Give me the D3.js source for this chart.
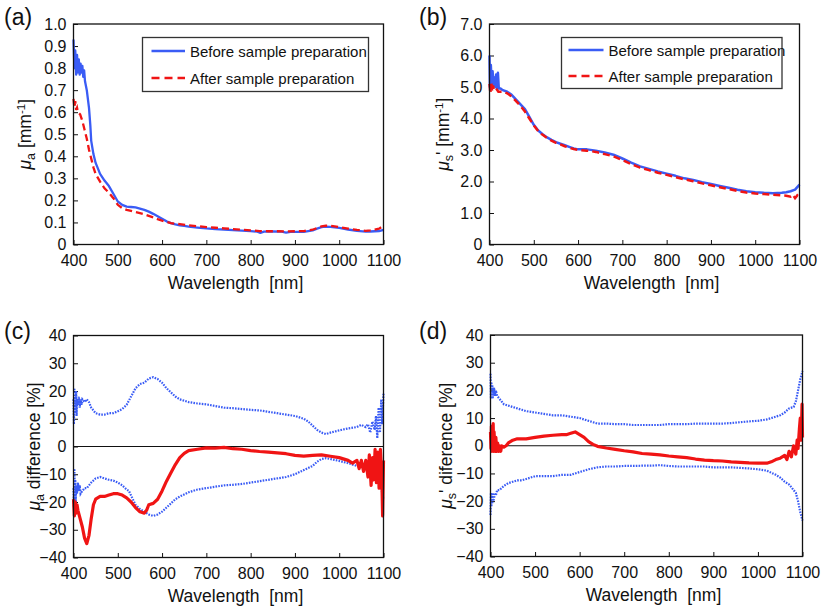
<!DOCTYPE html>
<html>
<head>
<meta charset="utf-8">
<script src="https://cdn.jsdelivr.net/npm/d3@7"></script>
<style>
  html, body { margin: 0; padding: 0; background: #fff; }
  svg text { font-family: "Liberation Sans", Arial, Helvetica, sans-serif; fill: #111; }
</style>
</head>
<body>
<svg id="chart" width="825" height="609"></svg>
<script>
// ---------------- DATA ----------------
const xTicks = [400, 500, 600, 700, 800, 900, 1000, 1100];
const yTicksA = [0, 0.1, 0.2, 0.3, 0.4, 0.5, 0.6, 0.7, 0.8, 0.9, 1.0];
const yTicksB = [0, 1, 2, 3, 4, 5, 6, 7];
const yTicksDiff = [-40, -30, -20, -10, 0, 10, 20, 30, 40];
const legendLabels = ["Before sample preparation", "After sample preparation"];

// (a) absorption coefficient [mm^-1]
const muaBefore = [[400,0.93],[402,0.80],[404,0.88],[406,0.77],[408,0.86],[410,0.78],[412,0.84],[414,0.77],[416,0.82],[418,0.78],[420,0.81],[422,0.76],[424,0.79],[426,0.74],[430,0.70],[435,0.62],[438,0.54],[440,0.47],[445,0.41],[450,0.37],[460,0.32],[470,0.29],[480,0.265],[490,0.23],[500,0.195],[510,0.18],[520,0.172],[530,0.17],[540,0.168],[550,0.163],[560,0.157],[570,0.149],[580,0.139],[590,0.128],[600,0.117],[610,0.105],[620,0.097],[630,0.091],[640,0.087],[650,0.084],[660,0.081],[680,0.077],[700,0.073],[720,0.070],[740,0.068],[760,0.065],[780,0.063],[800,0.061],[815,0.058],[822,0.053],[830,0.058],[850,0.059],[870,0.058],[880,0.054],[890,0.057],[900,0.057],[920,0.057],[940,0.064],[950,0.072],[960,0.079],[970,0.081],[980,0.080],[990,0.078],[1000,0.075],[1020,0.068],[1040,0.062],[1060,0.058],[1070,0.059],[1080,0.060],[1090,0.061],[1100,0.066]];
const muaAfter = [[400,0.66],[402,0.62],[404,0.65],[406,0.61],[408,0.62],[410,0.60],[415,0.59],[420,0.56],[425,0.52],[430,0.48],[435,0.43],[440,0.39],[445,0.35],[450,0.32],[460,0.285],[470,0.255],[480,0.235],[490,0.21],[500,0.18],[510,0.165],[520,0.157],[530,0.152],[540,0.147],[550,0.142],[560,0.137],[570,0.130],[580,0.123],[590,0.115],[600,0.108],[620,0.097],[640,0.092],[660,0.087],[680,0.083],[700,0.079],[720,0.076],[740,0.073],[760,0.070],[780,0.067],[800,0.064],[820,0.061],[840,0.060],[860,0.060],[880,0.059],[900,0.060],[920,0.061],[940,0.067],[950,0.075],[960,0.082],[970,0.085],[980,0.085],[1000,0.079],[1020,0.072],[1040,0.066],[1060,0.062],[1070,0.064],[1080,0.068],[1090,0.072],[1100,0.085]];

// (b) reduced scattering coefficient [mm^-1]
const musBefore = [[400,6.0],[401,5.0],[403,5.7],[405,5.1],[407,5.5],[409,5.05],[411,5.3],[413,5.0],[415,5.4],[417,4.95],[419,5.45],[421,4.95],[425,4.95],[430,4.9],[440,4.85],[450,4.75],[460,4.6],[470,4.45],[480,4.3],[490,4.05],[500,3.8],[510,3.62],[520,3.5],[530,3.4],[540,3.32],[550,3.25],[560,3.2],[570,3.15],[580,3.1],[590,3.05],[600,3.02],[620,3.02],[640,2.98],[660,2.92],[680,2.85],[700,2.73],[720,2.6],[740,2.48],[760,2.4],[780,2.32],[800,2.25],[820,2.18],[840,2.1],[860,2.05],[880,1.98],[900,1.92],[920,1.86],[940,1.8],[960,1.74],[980,1.69],[1000,1.66],[1020,1.64],[1040,1.63],[1060,1.64],[1070,1.66],[1080,1.69],[1090,1.74],[1095,1.82],[1100,1.9]];
const musAfter = [[400,5.1],[402,4.8],[404,5.15],[406,4.85],[408,5.05],[410,4.9],[415,4.95],[420,4.85],[430,4.85],[440,4.8],[450,4.7],[460,4.55],[470,4.4],[480,4.22],[490,4.0],[500,3.78],[510,3.6],[520,3.48],[530,3.38],[540,3.3],[550,3.23],[560,3.18],[570,3.12],[580,3.07],[590,3.03],[600,3.0],[620,2.98],[640,2.94],[660,2.87],[680,2.8],[700,2.68],[720,2.55],[740,2.44],[760,2.36],[780,2.28],[800,2.21],[820,2.14],[840,2.07],[860,2.01],[880,1.94],[900,1.88],[920,1.82],[940,1.76],[960,1.7],[980,1.65],[1000,1.62],[1020,1.6],[1040,1.58],[1060,1.56],[1070,1.55],[1080,1.52],[1085,1.58],[1090,1.47],[1095,1.56],[1100,1.5]];

// (c) mua difference [%]
const muaDiffUpper = [[400,17],[401,8],[402,21],[403,12],[404,18],[405,14],[406,20],[407,11],[408,17],[410,15],[412,18],[414,14],[416,17],[418,15],[420,17],[425,16],[430,17],[435,16],[440,14],[450,12],[460,11.5],[470,11.5],[480,12],[490,12],[500,12.7],[510,13.5],[520,15],[530,18],[540,21],[550,22.5],[560,23],[570,24.5],[580,25],[590,24.3],[600,23],[610,21],[620,19.5],[630,18],[640,17],[650,16.5],[660,16],[680,15.5],[700,15.2],[720,14.6],[740,14],[760,13.8],[780,13.5],[800,13.2],[820,13],[840,12.5],[860,12],[880,11.5],[900,11],[920,10],[930,9],[940,7.5],[950,6],[960,5],[970,4.5],[980,5],[1000,5.8],[1020,6.5],[1040,7],[1050,7.8],[1060,7],[1065,8],[1070,5],[1075,9],[1080,6],[1083,11],[1086,3],[1089,14],[1092,5],[1095,17],[1097,8],[1100,19]];
const muaDiffLower = [[400,-15],[401,-22],[402,-8],[403,-18],[404,-12],[405,-20],[406,-14],[408,-17],[410,-13],[412,-16],[414,-14],[416,-17],[420,-16],[425,-15],[430,-15],[435,-14],[440,-13],[450,-11.5],[460,-11],[470,-11.5],[480,-12],[490,-12.3],[500,-13],[510,-14],[520,-15.5],[525,-16],[540,-21],[550,-22.5],[560,-23.5],[570,-24.5],[580,-25],[590,-24.5],[600,-23.5],[610,-22],[620,-20.5],[630,-19],[640,-18],[660,-16.5],[680,-15.5],[700,-15],[720,-14.5],[740,-14],[760,-13.8],[780,-13.5],[800,-13],[820,-12.5],[840,-12],[860,-11.5],[880,-11],[900,-10],[920,-8.5],[940,-7],[950,-5.5],[960,-4.5],[970,-4.2],[980,-4.5],[1000,-5.2],[1020,-6],[1040,-7],[1050,-7.5],[1060,-8],[1070,-7],[1075,-10],[1080,-6],[1085,-12],[1090,-4],[1095,-15],[1100,-19]];
const muaDiffMean = [[400,-19],[402,-25],[404,-20],[406,-24],[408,-21],[410,-23],[415,-26],[420,-29],[425,-33],[430,-35],[435,-32],[440,-26],[445,-21],[450,-19],[460,-18],[470,-18],[480,-17.5],[490,-17],[500,-17],[510,-17.5],[520,-18.5],[530,-20],[540,-22],[550,-23.5],[560,-24],[565,-23],[570,-21],[580,-20.5],[590,-19],[600,-16],[610,-12.5],[620,-9.5],[630,-6.5],[640,-4],[650,-2.5],[660,-1.5],[680,-1],[700,-0.5],[720,-0.6],[740,-0.3],[760,-0.8],[780,-1],[800,-1.5],[820,-1.8],[840,-2],[860,-2.3],[880,-2.6],[900,-3.2],[920,-3.5],[940,-3.2],[960,-3],[980,-3.5],[1000,-4],[1020,-5],[1030,-6],[1040,-5],[1045,-8],[1050,-5],[1055,-9],[1060,-5],[1065,-11],[1068,-3],[1072,-14],[1075,-4],[1078,-12],[1081,-1],[1084,-13],[1087,-2],[1090,-15],[1093,-1],[1096,-10],[1098,-25],[1100,-5]];

// (d) mus' difference [%]
const musDiffUpper = [[400,26],[401,17],[402,23],[403,18],[404,22],[405,17],[406,21],[407,18],[408,21],[410,18],[412,20],[415,18],[420,17],[425,16],[430,15],[440,14.5],[450,14],[460,13.5],[470,13],[480,12.5],[500,12],[520,11.5],[540,11],[560,11],[580,10.5],[600,10],[620,9],[630,8.5],[640,8],[660,8],[680,7.8],[700,7.8],[720,7.5],[740,7.5],[760,7.5],[780,7.5],[800,7.8],[820,7.8],[840,7.8],[860,8],[880,8],[900,8],[920,8],[940,8.2],[960,8.5],[980,8.8],[1000,9],[1020,9.5],[1040,10.5],[1050,11],[1060,12],[1070,13.5],[1080,14],[1085,16],[1090,20],[1095,24],[1100,27]];
const musDiffLower = [[400,-25],[401,-17],[402,-22],[403,-18],[404,-21],[405,-17],[406,-20],[408,-19],[410,-17],[412,-18],[415,-16],[420,-16],[430,-14.5],[440,-13.5],[450,-13],[460,-12.5],[470,-12.5],[480,-12],[500,-11],[520,-11],[540,-11],[560,-10.5],[580,-10.5],[600,-9.5],[620,-8.5],[640,-7.8],[660,-7.5],[680,-7.5],[700,-7.3],[720,-7.3],[740,-7.2],[760,-7.2],[780,-7],[800,-7.3],[820,-7.5],[840,-7.5],[860,-7.5],[880,-7.5],[900,-7.8],[920,-7.8],[940,-7.8],[960,-8],[980,-8.2],[1000,-8.5],[1020,-9],[1040,-10.5],[1050,-11.5],[1060,-13],[1070,-14],[1080,-16],[1085,-17],[1090,-20],[1095,-24],[1100,-27]];
const musDiffMean = [[400,5],[401,-1],[402,7],[403,-2],[404,3],[405,0],[406,8],[407,-2],[408,5],[410,-2],[412,3],[414,-2],[416,1],[418,-2],[420,0],[423,-2],[425,0],[430,-0.5],[435,0],[440,1],[450,2],[460,2.5],[480,2.5],[500,3],[520,3.5],[540,3.8],[560,4],[570,4],[580,4.5],[590,5],[600,4],[610,3],[620,1.5],[630,0.5],[640,-0.2],[660,-0.8],[680,-1.3],[700,-1.8],[720,-2.2],[740,-2.8],[760,-3],[780,-3.3],[800,-3.7],[820,-4],[840,-4.3],[860,-4.8],[880,-5.2],[900,-5.4],[920,-5.5],[940,-5.8],[960,-6],[980,-6.2],[1000,-6.3],[1020,-6.3],[1030,-5.8],[1040,-5],[1050,-4.5],[1060,-3.5],[1065,-5],[1070,-2],[1075,-4],[1080,0],[1085,-3],[1088,2],[1090,-1],[1093,6],[1095,10],[1097,2],[1099,15],[1100,3]];

// ---------------- DRAWING ----------------
const BLUE = "#3a5cf5", RED = "#f01414";
const svg = d3.select("#chart");

function panel(opts) {
  const {x0, x1, y0, y1, yDomain, yTicks, yFmt, label, labelX, labelY, yTitle, yTitleX} = opts;
  const g = svg.append("g");
  const x = d3.scaleLinear().domain([400, 1100]).range([x0, x1]);
  const y = d3.scaleLinear().domain(yDomain).range([y1, y0]);

  const xa = g.append("g").attr("transform", `translate(0,${y1})`)
    .call(d3.axisBottom(x).tickValues(xTicks).tickSize(-4.5).tickPadding(10.5).tickFormat(d3.format("d")));
  const ya = g.append("g").attr("transform", `translate(${x0},0)`)
    .call(d3.axisLeft(y).tickValues(yTicks).tickSize(-4.5).tickPadding(7).tickFormat(yFmt));
  [xa, ya].forEach(a => {
    a.select(".domain").remove();
    a.selectAll("line").attr("stroke", "#111").attr("stroke-width", 1);
    a.selectAll("text").attr("font-size", 16).attr("fill", "#111")
      .attr("font-family", '"Liberation Sans", Arial, sans-serif');
  });

  const plot = g.append("g");
  g.append("rect").attr("x", x0).attr("y", y0).attr("width", x1 - x0).attr("height", y1 - y0)
    .attr("fill", "none").attr("stroke", "#111").attr("stroke-width", 1.3);

  g.append("text").attr("x", (x0 + x1) / 2 + 7).attr("y", y1 + 44)
    .attr("text-anchor", "middle").attr("font-size", 17.5).text("Wavelength\u00a0\u00a0[nm]");
  g.append("text").attr("x", labelX).attr("y", labelY).attr("font-size", 23).text(label);
  const yt = g.append("text").attr("transform", `translate(${yTitleX},${(y0 + y1) / 2}) rotate(-90)`)
    .attr("text-anchor", "middle").attr("font-size", 17.5);
  yTitle(yt);
  return {x, y, plot, g};
}

const line = (x, y) => d3.line().x(d => x(d[0])).y(d => y(d[1]));

function legend(g, bx, by, bw, bh, lx0, lx1, tx, r1, r2) {
  g.append("rect").attr("x", bx).attr("y", by).attr("width", bw).attr("height", bh)
    .attr("fill", "#fff").attr("stroke", "#333").attr("stroke-width", 1.3);
  g.append("line").attr("x1", lx0).attr("x2", lx1).attr("y1", r1).attr("y2", r1)
    .attr("stroke", BLUE).attr("stroke-width", 2.5);
  g.append("line").attr("x1", lx0).attr("x2", lx1).attr("y1", r2).attr("y2", r2)
    .attr("stroke", RED).attr("stroke-width", 2.5).attr("stroke-dasharray", "8,5");
  g.append("text").attr("x", tx).attr("y", r1 + 5.5).attr("font-size", 15).text(legendLabels[0]);
  g.append("text").attr("x", tx).attr("y", r2 + 5.5).attr("font-size", 15).text(legendLabels[1]);
}

function muTitle(sub, prime, rest, sup) {
  return t => {
    t.append("tspan").attr("font-style", "italic").text("\u03bc");
    t.append("tspan").attr("font-size", 12.5).attr("dy", 4).text(sub);
    t.append("tspan").attr("dy", -4).text(prime + rest);
    if (sup) {
      t.append("tspan").attr("font-size", 11.5).attr("dy", -6).text(sup);
      t.append("tspan").attr("dy", 6).text("]");
    }
  };
}

// (a)
const A = panel({x0: 73.5, x1: 383.5, y0: 24, y1: 244.5, yDomain: [0, 1], yTicks: yTicksA,
  yFmt: d => d === 0 ? "0" : d.toFixed(1), label: "(a)", labelX: 4, labelY: 25,
  yTitle: muTitle("a", "", " [mm", "-1"), yTitleX: 31});
A.plot.append("path").datum(muaBefore).attr("d", line(A.x, A.y)).attr("fill", "none")
  .attr("stroke", BLUE).attr("stroke-width", 2.3).attr("stroke-linejoin", "round");
A.plot.append("path").datum(muaAfter).attr("d", line(A.x, A.y)).attr("fill", "none")
  .attr("stroke", RED).attr("stroke-width", 2.3).attr("stroke-dasharray", "7,4");
legend(A.g, 142.5, 37.5, 226, 54, 151.5, 185, 190, 51, 78);

// (b)
const B = panel({x0: 489.5, x1: 799.5, y0: 24, y1: 244.5, yDomain: [0, 7], yTicks: yTicksB,
  yFmt: d => d === 0 ? "0" : d.toFixed(1), label: "(b)", labelX: 419, labelY: 25,
  yTitle: muTitle("s", "'", " [mm", "-1"), yTitleX: 449});
B.plot.append("path").datum(musBefore).attr("d", line(B.x, B.y)).attr("fill", "none")
  .attr("stroke", BLUE).attr("stroke-width", 2.5).attr("stroke-linejoin", "round");
B.plot.append("path").datum(musAfter).attr("d", line(B.x, B.y)).attr("fill", "none")
  .attr("stroke", RED).attr("stroke-width", 2.5).attr("stroke-dasharray", "7,4");
legend(B.g, 561.5, 37.5, 220.5, 51, 568.5, 603.5, 608.5, 50, 76);

function diffPanel(P, upper, lower, mean) {
  P.plot.append("line").attr("x1", P.x(400)).attr("x2", P.x(1100)).attr("y1", P.y(0)).attr("y2", P.y(0))
    .attr("stroke", "#111").attr("stroke-width", 1.2);
  [upper, lower].forEach(s => {
    P.plot.append("path").datum(s).attr("d", line(P.x, P.y)).attr("fill", "none")
      .attr("stroke", BLUE).attr("stroke-width", 2.2).attr("stroke-dasharray", "1.6,1.2");
  });
  P.plot.append("path").datum(mean).attr("d", line(P.x, P.y)).attr("fill", "none")
    .attr("stroke", RED).attr("stroke-width", 3.2).attr("stroke-linejoin", "round");
}

// (c)
const C = panel({x0: 73.5, x1: 383.5, y0: 335.5, y1: 557.5, yDomain: [-40, 40], yTicks: yTicksDiff,
  yFmt: d3.format("d"), label: "(c)", labelX: 4, labelY: 339,
  yTitle: muTitle("a", "", " difference [%]", null), yTitleX: 40});
diffPanel(C, muaDiffUpper, muaDiffLower, muaDiffMean);

// (d)
const D = panel({x0: 490.5, x1: 802.5, y0: 335, y1: 556.5, yDomain: [-40, 40], yTicks: yTicksDiff,
  yFmt: d3.format("d"), label: "(d)", labelX: 419, labelY: 339,
  yTitle: muTitle("s", "'", " diference [%]", null), yTitleX: 452});
diffPanel(D, musDiffUpper, musDiffLower, musDiffMean);
</script>
</body>
</html>
